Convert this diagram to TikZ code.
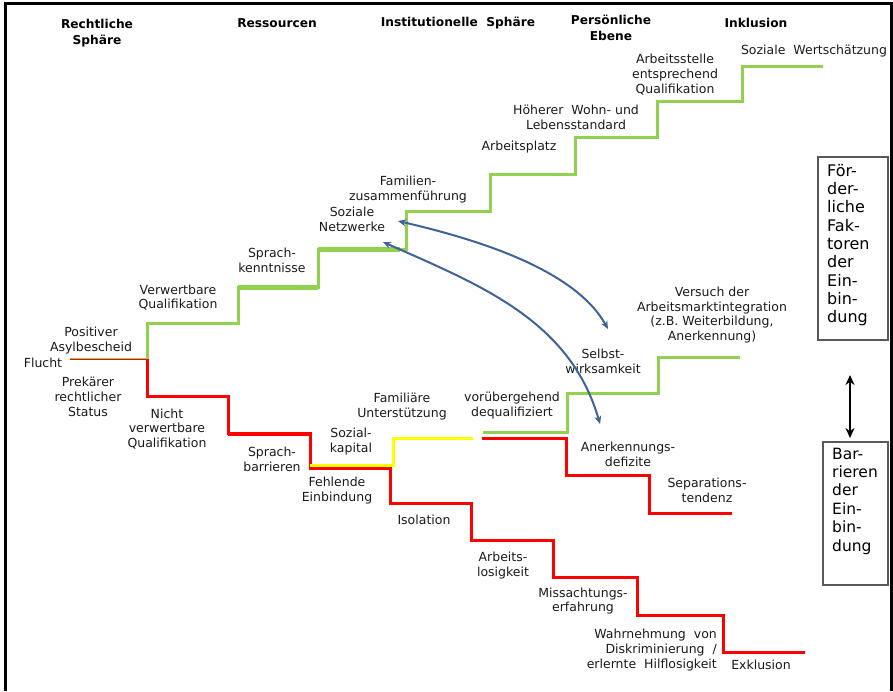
\documentclass[tikz,border=0pt]{standalone}
\usepackage{fontspec}
\setmainfont{DejaVu Sans}
\usetikzlibrary{arrows.meta}
\definecolor{stepgreen}{HTML}{92D050}
\definecolor{stepred}{HTML}{FF0000}
\definecolor{stepyellow}{HTML}{FFFF00}
\definecolor{arrowblue}{RGB}{62,99,150}
\definecolor{labelgray}{HTML}{1A1A1A}
\begin{document}
\begin{tikzpicture}[x=1pt,y=-1pt,
  lab/.style={font=\fontsize{12.5}{14.8}\selectfont, align=center, text=labelgray, inner sep=0pt},
  head/.style={font=\fontsize{12.2}{16}\selectfont\bfseries, align=center, text=black, inner sep=0pt},
  boxtxt/.style={font=\fontsize{16}{18.3}\selectfont, align=left, text=black, inner sep=0pt},
  stair/.style={line width=3pt, line join=miter},
  blarrow/.style={arrowblue, line width=2pt, {Stealth[length=8pt,width=7pt]}-{Stealth[length=8pt,width=7pt]}},
  sidebox/.style={draw=black!65, line width=1.1pt}
]
\useasboundingbox (0,0) rectangle (893,691);
% frame
\draw[line width=3pt] (5.5,691) -- (5.5,3) -- (891,3) -- (891,691);

% headers
\node[head] (h1) at (97,33) {Rechtliche\\Sphäre};
\node[head] (h2) at (277,23) {Ressourcen};
\node[head] (h3) at (458,23) {Institutionelle\ \ Sphäre};
\node[head] (h4) at (611,28) {Persönliche\\Ebene};
\node[head] (h5) at (756,23) {Inklusion};

% staircases
\draw[stepred, line width=1.6pt] (70,359.6) -- (147,359.6);
\draw[stepgreen, line width=1pt] (70,358.4) -- (147,358.4);
\draw[stepgreen, stair] (147,359) -- (147,323) -- (238,323) -- (238,287) -- (318,287) -- (318,249) -- (406,249) -- (406,211) -- (490,211) -- (490,174) -- (575,174) -- (575,137) -- (657,137) -- (657,101) -- (742,101) -- (742,66) -- (823,66);
\draw[stepgreen, line width=5pt] (238,287) -- (318,287);
\draw[stepgreen, line width=5.5pt] (318,249.5) -- (400,249.5);
\draw[stepgreen, stair] (483,432) -- (567,432) -- (567,393) -- (658,393) -- (658,357) -- (740,357);
\draw[stepred, stair] (147,359) -- (147,396) -- (228,396) -- (228,433) -- (310,433) -- (310,468.5) -- (390,468.5) -- (390,503) -- (471,503) -- (471,540) -- (553,540) -- (553,577) -- (637,577) -- (637,615) -- (723,615) -- (723,652) -- (805,652);
\draw[stepred, line width=4pt] (228,433.5) -- (310,433.5);
\draw[stepyellow, stair] (310,465.5) -- (393.5,465.5) -- (393.5,438) -- (473,438);
\draw[stepred, stair] (482,438) -- (566,438) -- (566,475) -- (649,475) -- (649,513) -- (732,513);

% labels
\node[lab] (flucht) at (43,363) {Flucht};
\node[lab] (asyl) at (91,340.5) {Positiver\\Asylbescheid};
\node[lab] (prek) at (88,397) {Prekärer\\rechtlicher\\Status};
\node[lab] (nverw) at (167,429) {Nicht\\verwertbare\\Qualifikation};
\node[lab] (verw) at (178,297.5) {Verwertbare\\Qualifikation};
\node[lab] (sprk) at (272,260.5) {Sprach-\\kenntnisse};
\node[lab] (netz) at (352,219) {Soziale\\Netzwerke};
\node[lab] (famz) at (408,189.5) {Familien-\\zusammenführung};
\node[lab] (aplatz) at (519,147) {Arbeitsplatz};
\node[lab] (hoeh) at (576,117.5) {Höherer\ \ Wohn- und\\Lebensstandard};
\node[lab] (astelle) at (675,74.5) {Arbeitsstelle\\entsprechend\\Qualifikation};
\node[lab] (wert) at (814,51) {Soziale\ \ Wertschätzung};
\node[lab] (vers) at (712,315) {Versuch der\\Arbeitsmarktintegration\\(z.B. Weiterbildung,\\Anerkennung)};
\node[lab] (selbst) at (603,361.5) {Selbst-\\wirksamkeit};
\node[lab] (vorueb) at (512,405.5) {vorübergehend\\dequalifiziert};
\node[lab] (famil) at (402,406.5) {Familiäre\\Unterstützung};
\node[lab] (sozk) at (351,441.5) {Sozial-\\kapital};
\node[lab] (sprb) at (272,459.5) {Sprach-\\barrieren};
\node[lab] (fehl) at (337,490.5) {Fehlende\\Einbindung};
\node[lab] (iso) at (424,520) {Isolation};
\node[lab] (anerk) at (628,454) {Anerkennungs-\\defizite};
\node[lab] (separ) at (707,490.5) {Separations-\\tendenz};
\node[lab] (alos) at (503,565.5) {Arbeits-\\losigkeit};
\node[lab] (missa) at (583,601) {Missachtungs-\\erfahrung};
\node[lab, align=right, anchor=east] (wahrn) at (717,650) {Wahrnehmung\ \ von\\Diskriminierung\ \ /\\erlernte\ \ Hilflosigkeit};
\node[lab] (exkl) at (761,665) {Exklusion};

% blue arrows
\coordinate (a1s) at (398,221);
\coordinate (a1e) at (608,329);
\coordinate (a2s) at (383,242);
\coordinate (a2e) at (600,424);
\draw[blarrow] (a1s) .. controls (480,240) and (575,270) .. (a1e);
\draw[blarrow] (a2s) .. controls (480,285) and (570,320) .. (a2e);

% side boxes
\draw[sidebox] (818,157) rectangle (888,340);
\node[boxtxt, anchor=west] (foerd) at (827,245) {För-\\der-\\liche\\Fak-\\toren\\der\\Ein-\\bin-\\dung};
\draw[sidebox] (823,442) rectangle (888,585);
\node[boxtxt, font=\fontsize{15.5}{18.4}\selectfont, anchor=west] (barr) at (832,501) {Bar-\\rieren\\der\\Ein-\\bin-\\dung};
\coordinate (dtop) at (850,375);
\coordinate (dbot) at (850,438);
\draw[line width=2.6pt, {Stealth[length=10pt,width=9pt]}-{Stealth[length=10pt,width=9pt]}] (dtop) -- (dbot);
\end{tikzpicture}
\end{document}
